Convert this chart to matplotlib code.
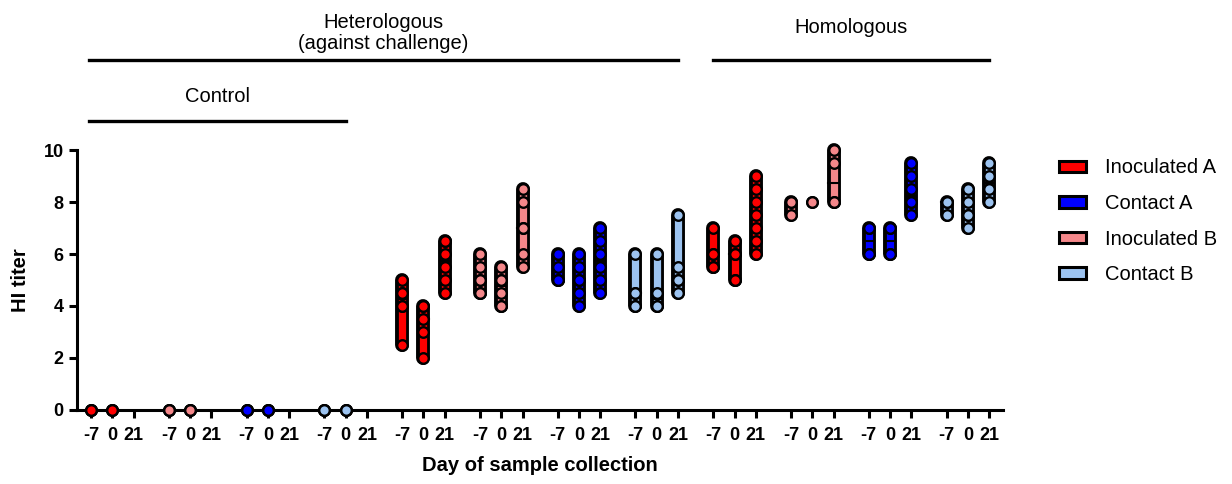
import numpy as np
import matplotlib.pyplot as plt
from matplotlib.patches import Patch

plt.rcParams['font.family'] = ['Liberation Sans', 'DejaVu Sans']

days = ['-7', '0', '21']
legend_names = ['Inoculated A', 'Contact A', 'Inoculated B', 'Contact B']
legend_colors = ['#ff0000', '#0000ff', '#f4878a', '#9cc3f0']

# group order along the x axis (colour of each group)
group_colors = ['#ff0000', '#f4878a', '#0000ff', '#9cc3f0'] * 3

# HI titers per group: [day -7, day 0, day 21]
ctrl_inoc_a = [[0, 0, 0], [0, 0, 0], []]
ctrl_inoc_b = [[0, 0, 0], [0, 0, 0], []]
ctrl_cont_a = [[0, 0, 0], [0, 0, 0], []]
ctrl_cont_b = [[0, 0, 0], [0, 0, 0], []]
het_inoc_a = [[5, 4.5, 4.5, 4, 4, 2.5], [4, 4, 3.5, 3, 2], [6.5, 6.5, 6, 5.5, 5, 4.5]]
het_inoc_b = [[6, 5.5, 5, 5, 4.5, 4.5], [5.5, 5, 5, 4.5, 4, 4], [8.5, 8, 7, 7, 6, 5.5]]
het_cont_a = [[6, 6, 5.5, 5, 5], [6, 5.5, 5, 5, 4.5, 4], [7, 6.5, 6, 5.5, 5, 4.5]]
het_cont_b = [[6, 4.5, 4.5, 4, 4], [6, 4.5, 4, 4], [7.5, 5.5, 5, 5, 4.5]]
hom_inoc_a = [[7, 6, 6, 5.5, 5.5], [6.5, 6, 6, 5, 5], [9, 8.5, 8, 7.5, 7, 6.5, 6]]
hom_inoc_b = [[8, 8, 7.5], [8, 8], [10, 9.5, 8, 8]]
hom_cont_a = [[7, 7, 6, 6], [7, 7, 6, 6], [9.5, 9, 8.5, 8, 8, 7.5]]
hom_cont_b = [[8, 8, 7.5], [8.5, 8, 7.5, 7.5, 7], [9.5, 9, 8.5, 8]]

groups = [ctrl_inoc_a, ctrl_inoc_b, ctrl_cont_a, ctrl_cont_b,
          het_inoc_a, het_inoc_b, het_cont_a, het_cont_b,
          hom_inoc_a, hom_inoc_b, hom_cont_a, hom_cont_b]

group_step = 3.65

fig = plt.figure(figsize=(12.32, 4.84), dpi=100)
ax = fig.add_axes([0.0625, 0.153, 0.7516, 0.537])

tick_pos = []
tick_lab = []
for g, (vals, col) in enumerate(zip(groups, group_colors)):
    for d, day in enumerate(days):
        x = g * group_step + d
        tick_pos.append(x)
        tick_lab.append(day)
        v = vals[d]
        if not v:
            continue
        lo, hi = min(v), max(v)
        ax.plot([x, x], [lo, hi], color='black', lw=10, solid_capstyle='round',
                zorder=3, clip_on=False)
        ax.plot([x, x], [lo, hi], color=col, lw=5.2, solid_capstyle='round',
                zorder=4, clip_on=False)
        med = np.median(v)
        if hi > lo:
            ax.plot([x - 0.24, x + 0.24], [med, med], color='black', lw=1.5,
                    zorder=5, clip_on=False)
        ax.plot([x] * len(v), v, 'o', ms=7.6, mfc=col, mec='black', mew=1.7,
                zorder=6, clip_on=False)

ax.set_xlim(-0.66, 42.8)
ax.set_ylim(0, 10)
ax.set_yticks([0, 2, 4, 6, 8, 10])
ax.set_xticks(tick_pos)
ax.set_xticklabels(tick_lab)
for s in ['top', 'right']:
    ax.spines[s].set_visible(False)
for s in ['left', 'bottom']:
    ax.spines[s].set_linewidth(2.2)
ax.tick_params(width=2.2, length=6, labelsize=13)
ax.tick_params(axis='x', pad=6)
for lab in ax.get_xticklabels() + ax.get_yticklabels():
    lab.set_fontweight('bold')
ax.set_xlabel('Day of sample collection', fontsize=14.5, fontweight='bold', labelpad=9)
ax.set_ylabel('HI titer', fontsize=14.5, fontweight='bold', labelpad=10)

# group annotations above the plot
def bracket(x0, x1, y, text, ty):
    ax.plot([x0, x1], [y, y], color='black', lw=2.4, clip_on=False)
    ax.text((x0 + x1) / 2, ty, text, ha='center', va='center', fontsize=14.5,
            linespacing=1.1)

bracket(-0.1, 3 * group_step + 1, 11.1, 'Control', 12.05)
bracket(-0.1, 7 * group_step + 2, 13.45, 'Heterologous\n(against challenge)', 14.5)
bracket(8 * group_step, 11 * group_step + 2, 13.45, 'Homologous', 14.7)

handles = [Patch(facecolor=c, edgecolor='black', lw=2.2) for c in legend_colors]
fig.legend(handles, legend_names, loc='upper left', bbox_to_anchor=(0.845, 0.71),
           frameon=False, fontsize=14.5, handlelength=1.35, handleheight=0.5,
           labelspacing=0.82, handletextpad=0.95)

fig.savefig('out.png', dpi=100)
